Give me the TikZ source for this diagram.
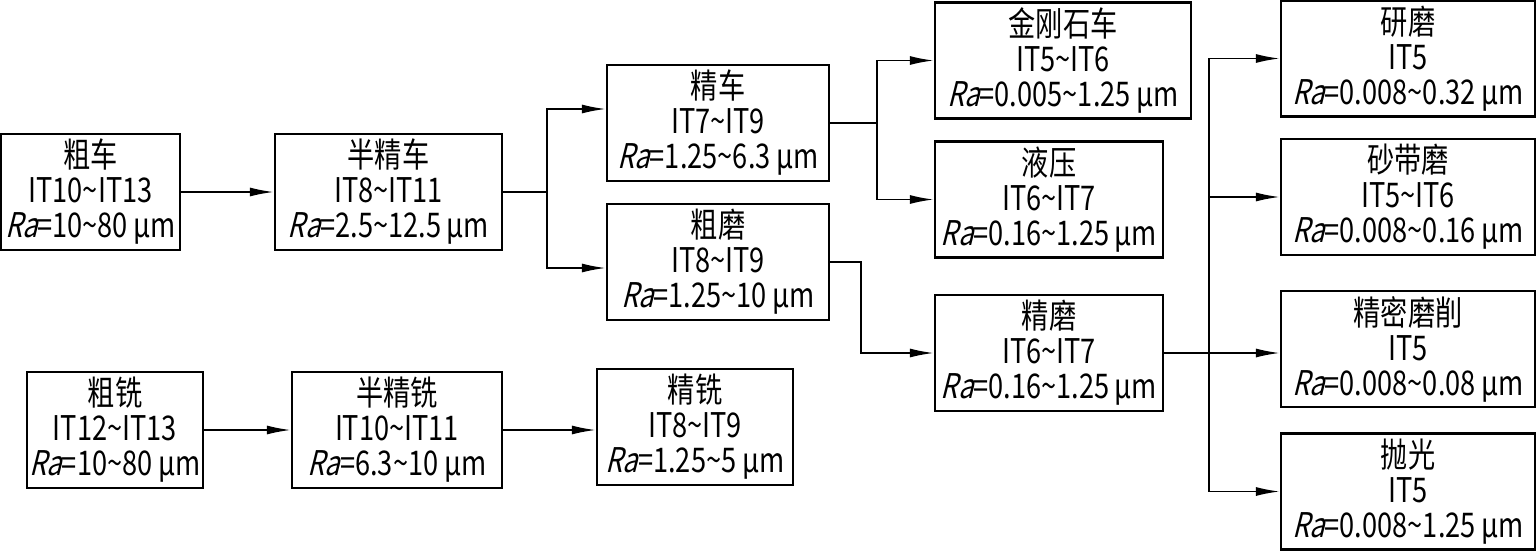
\documentclass[tikz,border=0pt]{standalone}
\usepackage{fontspec}
\setmainfont[FakeStretch=0.8]{Noto Sans CJK SC}
\newfontfamily\slantfont[FakeStretch=0.8,FakeSlant=0.25]{Noto Sans CJK SC}
\usetikzlibrary{arrows.meta}
\newcommand{\Ra}{{\slantfont Ra}=}
\newcommand{\tld}{\textasciitilde}
\newcommand{\umeter}{\,μm}
\begin{document}
\begin{tikzpicture}[x=1pt,y=-1pt,
    box/.style={draw,line width=2.2pt,align=center,inner sep=0pt,
      minimum height=116pt,font=\fontsize{34}{35}\selectfont},
    arr/.style={line width=1.8pt,-{Latex[length=24pt,width=9pt]}}]
  \useasboundingbox (0,0) rectangle (1536,551);
  % turning
  \node[box,minimum width=179pt] (Cuche) at (90.5,192) {粗车\\IT10\tld IT13\\\Ra10\tld 80\umeter};
  \node[box,minimum width=227pt] (Banjingche) at (388.5,192) {半精车\\IT8\tld IT11\\\Ra2.5\tld 12.5\umeter};
  \node[box,minimum width=222pt] (Jingche) at (718,123) {精车\\IT7\tld IT9\\\Ra1.25\tld 6.3\umeter};
  \node[box,minimum width=222pt] (Cumo) at (718,262) {粗磨\\IT8\tld IT9\\\Ra1.25\tld 10\umeter};
  \node[box,minimum width=256pt] (Jingangshi) at (1063,60.5) {金刚石车\\IT5\tld IT6\\\Ra0.005\tld 1.25\umeter};
  \node[box,minimum width=228pt] (Yeya) at (1049,199.5) {液压\\IT6\tld IT7\\\Ra0.16\tld 1.25\umeter};
  \node[box,minimum width=228pt] (Jingmo) at (1049,353) {精磨\\IT6\tld IT7\\\Ra0.16\tld 1.25\umeter};
  % grinding and finishing
  \node[box,minimum width=254pt] (Yanmo) at (1408,58.5) {研磨\\IT5\\\Ra0.008\tld 0.32\umeter};
  \node[box,minimum width=254pt] (Shadaimo) at (1408,197) {砂带磨\\IT5\tld IT6\\\Ra0.008\tld 0.16\umeter};
  \node[box,minimum width=254pt] (Jingmi) at (1408,349) {精密磨削\\IT5\\\Ra0.008\tld 0.08\umeter};
  \node[box,minimum width=254pt] (Paoguang) at (1408,491.5) {抛光\\IT5\\\Ra0.008\tld 1.25\umeter};
  % milling
  \node[box,minimum width=176pt] (Cuxi) at (115,430) {粗铣\\IT12\tld IT13\\\Ra10\tld 80\umeter};
  \node[box,minimum width=210pt] (Banjingxi) at (397,430) {半精铣\\IT10\tld IT11\\\Ra6.3\tld 10\umeter};
  \node[box,minimum width=196pt] (Jingxi) at (695,427) {精铣\\IT8\tld IT9\\\Ra1.25\tld 5\umeter};

  \draw[arr] (Cuche) -- (Banjingche);
  \draw[arr] (Banjingche.east) -- ++(44,0) |- ([yshift=14pt]Jingche.west);
  \draw[arr] (Banjingche.east) -- ++(44,0) |- ([yshift=-6pt]Cumo.west);
  \draw[arr] (Jingche.east) -- ++(47,0) |- (Jingangshi.west);
  \draw[arr] (Jingche.east) -- ++(47,0) |- (Yeya.west);
  \draw[arr] (Cumo.east) -- ++(31,0) |- (Jingmo.west);
  \draw[arr] (Jingmo.east) -- ++(45,0) |- (Yanmo.west);
  \draw[arr] (Jingmo.east) -- ++(45,0) |- (Shadaimo.west);
  \draw[arr] (Jingmo.east) -- (Jingmo.east -| Jingmi.west);
  \draw[arr] (Jingmo.east) -- ++(45,0) |- (Paoguang.west);
  \draw[arr] (Cuxi) -- (Banjingxi);
  \draw[arr] (Banjingxi.east) -- (Banjingxi.east -| Jingxi.west);
\end{tikzpicture}
\end{document}
